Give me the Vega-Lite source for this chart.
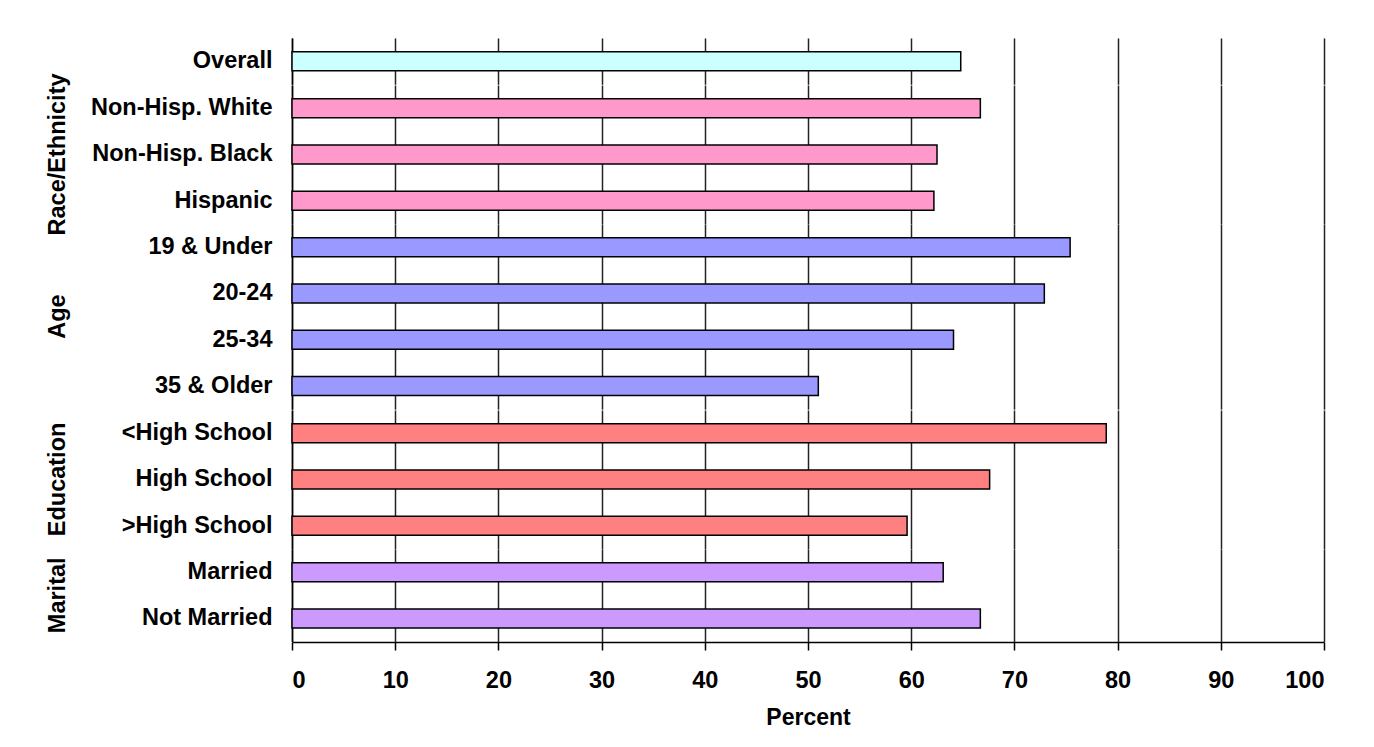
{
  "$schema": "https://vega.github.io/schema/vega-lite/v6.json",
  "padding": {"left": 45, "top": 38, "right": 40, "bottom": 5},
  "background": "white",
  "data": {"values": [
    {"group": "Overall", "category": "Overall", "percent": 64.8},
    {"group": "Race/Ethnicity", "category": "Non-Hisp. White", "percent": 66.7},
    {"group": "Race/Ethnicity", "category": "Non-Hisp. Black", "percent": 62.5},
    {"group": "Race/Ethnicity", "category": "Hispanic", "percent": 62.2},
    {"group": "Age", "category": "19 & Under", "percent": 75.4},
    {"group": "Age", "category": "20-24", "percent": 72.9},
    {"group": "Age", "category": "25-34", "percent": 64.1},
    {"group": "Age", "category": "35 & Older", "percent": 51.0},
    {"group": "Education", "category": "<High School", "percent": 78.9},
    {"group": "Education", "category": "High School", "percent": 67.6},
    {"group": "Education", "category": ">High School", "percent": 59.6},
    {"group": "Marital", "category": "Married", "percent": 63.1},
    {"group": "Marital", "category": "Not Married", "percent": 66.7}
  ]},
  "facet": {
    "row": {
      "field": "group",
      "type": "nominal",
      "sort": ["Overall", "Race/Ethnicity", "Age", "Education", "Marital"],
      "title": null,
      "header": {
        "labelOrient": "left",
        "labelAngle": -90,
        "labelAlign": "center",
        "labelBaseline": "middle",
        "labelFont": "Liberation Sans",
        "labelFontSize": 23.5,
        "labelFontWeight": "bold",
        "labelColor": "black",
        "labelPadding": 9,
        "labelExpr": "datum.value == 'Overall' ? '' : datum.value"
      }
    }
  },
  "spacing": {"row": 0},
  "resolve": {"scale": {"y": "independent"}},
  "spec": {
    "width": 1032,
    "height": {"step": 46.3},
    "mark": {"type": "bar", "size": 19, "stroke": "black", "strokeWidth": 1.5},
    "encoding": {
      "y": {
        "field": "category",
        "type": "nominal",
        "sort": null,
        "scale": {"paddingInner": 0, "paddingOuter": 0},
        "axis": {
          "title": null,
          "ticks": false,
          "domainColor": "black",
          "domainWidth": 1.5,
          "labelFont": "Liberation Sans",
          "labelFontSize": 23.5,
          "labelFontWeight": "bold",
          "labelColor": "black",
          "labelPadding": 20,
          "labelLimit": 400
        }
      },
      "x": {
        "field": "percent",
        "type": "quantitative",
        "scale": {"domain": [0, 100], "nice": false},
        "axis": {
          "title": "Percent",
          "values": [0, 10, 20, 30, 40, 50, 60, 70, 80, 90, 100],
          "grid": true,
          "gridColor": "#222",
          "gridWidth": 1.5,
          "domainColor": "black",
          "domainWidth": 1.5,
          "tickColor": "black",
          "tickWidth": 1.5,
          "tickSize": 8,
          "labelFont": "Liberation Sans",
          "labelFontSize": 23.5,
          "labelFontWeight": "bold",
          "labelColor": "black",
          "labelPadding": 18,
          "titleFont": "Liberation Sans",
          "titleFontSize": 23,
          "titleFontWeight": "bold",
          "titleColor": "black",
          "titlePadding": 15
        }
      },
      "color": {
        "field": "group",
        "type": "nominal",
        "scale": {
          "domain": ["Overall", "Race/Ethnicity", "Age", "Education", "Marital"],
          "range": ["#CCFFFF", "#FF99CC", "#9999FF", "#FF8080", "#CC99FF"]
        },
        "legend": null
      }
    }
  },
  "config": {"view": {"stroke": null}}
}
